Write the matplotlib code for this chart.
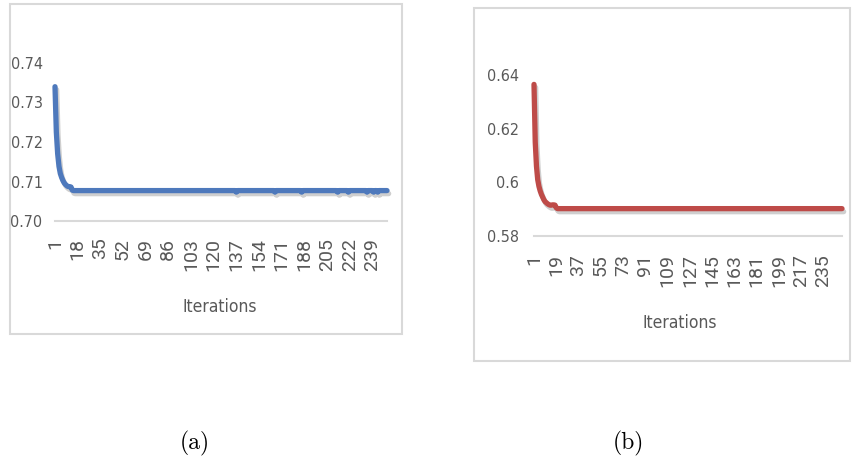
import numpy as np
import matplotlib
matplotlib.use("Agg")
import matplotlib.pyplot as plt
import matplotlib.patheffects as pe
from matplotlib.patches import Rectangle

# --- DATA ---
n_iter = 250

# (a) fast drop over the first iterations, then a flat plateau with a few small dips
head_a = [0.7340, 0.7225, 0.7170, 0.7138, 0.7120, 0.7110, 0.7102,
          0.7096, 0.7092, 0.7089, 0.7087, 0.7087, 0.7086, 0.7078]
plateau_a = 0.7077
dip_iters_a = [137, 166, 186, 213, 221, 235, 240, 243]
dip_vals_a = [0.7073, 0.7073, 0.7073, 0.7073, 0.7073, 0.7073, 0.7073, 0.7073]

# (b) same shape, small shoulder near iteration 16-18
head_b = [0.6365, 0.6150, 0.6060, 0.6010, 0.5985, 0.5968, 0.5955,
          0.5945, 0.5935, 0.5928, 0.5924, 0.5920, 0.5917, 0.5915,
          0.5915, 0.5916, 0.5916, 0.5915, 0.5905]
plateau_b = 0.5902

yticks_a = [0.70, 0.71, 0.72, 0.73, 0.74]
ytick_labels_a = ["0.70", "0.71", "0.72", "0.73", "0.74"]
yticks_b = [0.58, 0.60, 0.62, 0.64]
ytick_labels_b = ["0.58", "0.6", "0.62", "0.64"]

xticks_a = [1, 18, 35, 52, 69, 86, 103, 120, 137, 154, 171, 188, 205, 222, 239]
xticks_b = [1, 19, 37, 55, 73, 91, 109, 127, 145, 163, 181, 199, 217, 235]


def build_series(head, plateau, dip_iters=(), dip_vals=()):
    vals = [plateau] * n_iter
    vals[:len(head)] = head
    for it, v in zip(dip_iters, dip_vals):
        vals[it - 1] = v
    return np.array(vals)


series_a = build_series(head_a, plateau_a, dip_iters_a, dip_vals_a)
series_b = build_series(head_b, plateau_b)
iterations = np.arange(1, n_iter + 1)

TEXT_GRAY = "#595959"
AXIS_GRAY = "#D9D9D9"
NARROW = dict(family="DejaVu Sans", stretch="condensed")

W, H = 852, 463
fig = plt.figure(figsize=(W / 100, H / 100), dpi=100)
fig.patch.set_facecolor("white")


def px_axes(x0, x1, y_top, y_bot):
    return fig.add_axes([x0 / W, 1 - y_bot / H, (x1 - x0) / W, (y_bot - y_top) / H])


def style_panel(ax, color, series, ylim, yticks, ylabels, xticks, ypad, xpad):
    ax.plot(iterations, series, color=color, linewidth=3.8,
            solid_capstyle="round", solid_joinstyle="round", clip_on=False,
            path_effects=[pe.SimpleLineShadow(offset=(1.2, -2.2), shadow_color="#777777", alpha=0.35),
                          pe.Normal()])
    ax.set_xlim(1, n_iter)
    ax.set_ylim(*ylim)
    for s in ("top", "right", "left"):
        ax.spines[s].set_visible(False)
    ax.spines["bottom"].set_color(AXIS_GRAY)
    ax.spines["bottom"].set_linewidth(1.5)
    ax.set_yticks(yticks)
    ax.set_yticklabels(ylabels, fontsize=11.5, color=TEXT_GRAY, **NARROW)
    ax.set_xticks(xticks)
    ax.set_xticklabels([str(t) for t in xticks], family=["Roboto", "DejaVu Sans"],
                       fontsize=14, color=TEXT_GRAY, rotation=90, va="top", ha="center")
    ax.tick_params(axis="y", length=0, pad=ypad)
    ax.tick_params(axis="x", length=0, pad=xpad)
    ax.set_facecolor("none")


# (a) panel
ax1 = px_axes(55, 387, 63, 221)
style_panel(ax1, "#4E79BC", series_a, (0.70, 0.74), yticks_a, ytick_labels_a, xticks_a, 9, 12)
fig.text(220 / W, 1 - 307 / H, "Iterations", fontsize=12.5,
         color=TEXT_GRAY, ha="center", va="center", **NARROW)

# (b) panel
ax2 = px_axes(534, 842, 75, 236)
style_panel(ax2, "#BE4B48", series_b, (0.58, 0.64), yticks_b, ytick_labels_b, xticks_b, 11, 13)
fig.text(680 / W, 1 - 323 / H, "Iterations", fontsize=12.5,
         color=TEXT_GRAY, ha="center", va="center", **NARROW)

# chart frames
for (x0, y0, x1, y1) in [(10, 4, 402, 334), (474, 8, 850, 361)]:
    fig.add_artist(Rectangle((x0 / W, 1 - y1 / H), (x1 - x0) / W, (y1 - y0) / H,
                             transform=fig.transFigure, fill=False,
                             edgecolor=AXIS_GRAY, linewidth=1.5))

# captions
fig.text(195 / W, 1 - 443 / H, "(a)", family=["cmr10", "DejaVu Serif"], fontsize=17,
         color="black", ha="center", va="center")
fig.text(628 / W, 1 - 443 / H, "(b)", family=["cmr10", "DejaVu Serif"], fontsize=17,
         color="black", ha="center", va="center")

fig.savefig("out.png", dpi=100, facecolor="white")
